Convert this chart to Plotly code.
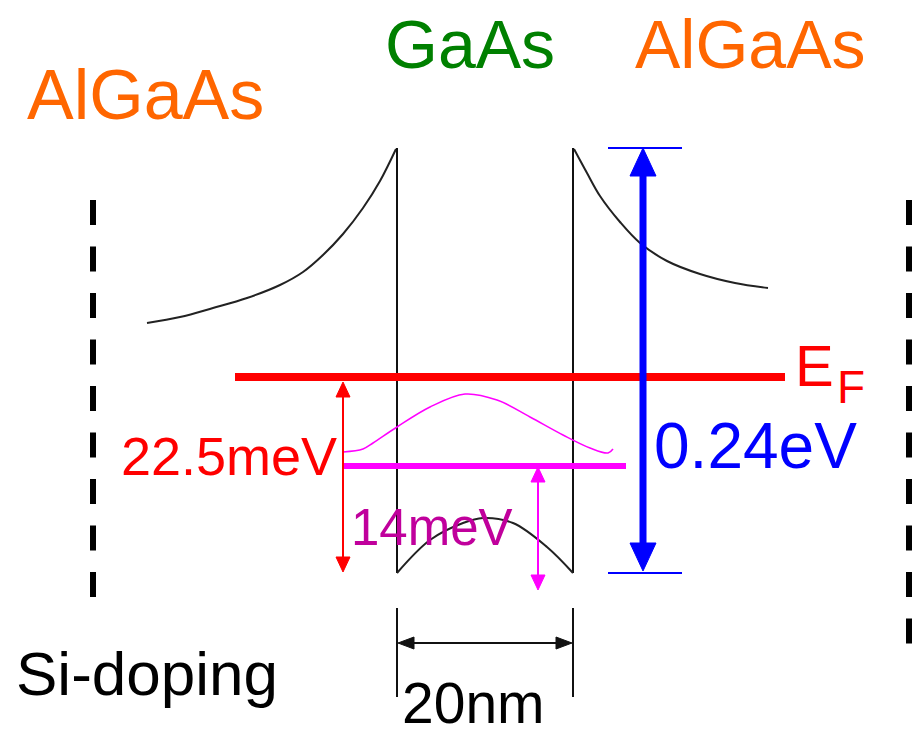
import plotly.graph_objects as go

# ---------------- data (diagram coordinates, px units, y downwards) ----------------
LEFT_BARRIER_X = [147, 180, 213, 247, 280, 303, 323, 343, 363, 380, 396]
LEFT_BARRIER_Y = [323, 317, 308, 298, 285, 272, 255, 234, 208, 181, 149]
RIGHT_BARRIER_X = [574, 587, 600, 620, 640, 667, 700, 735, 768]
RIGHT_BARRIER_Y = [149, 173, 196, 222, 243, 261, 274, 283, 288]
WELL_BOTTOM_X = [397, 430, 463, 483, 513, 547, 573]
WELL_BOTTOM_Y = [573, 540, 523, 518, 523, 547, 573]
WALL_X = [397, 573]
WALL_Y = [148, 573]
WAVE_X = [343, 363, 373, 397, 430, 465, 497, 530, 563, 590, 608, 613]
WAVE_Y = [452, 449, 443, 427, 407, 394, 400, 417, 435, 448, 453, 449]
FERMI_X = [235, 785]
FERMI_Y = 377
LEVEL_X = [343, 626]
LEVEL_Y = 466
DOPING_X = [93, 909]
DOPING_Y = [[200, 600], [200, 645]]
GAP_ARROW = dict(x=643, y=[148, 571], caps_x=[608, 682])
EF_ARROW = dict(x=343, y=[382, 572])
E1_ARROW = dict(x=538, y=[467, 590])
WIDTH_ARROW = dict(y=643, x=[398, 572], ticks_y=[608, 697])

LABELS = [
    # text, x, y, size, color
    ("AlGaAs", 145, 95, 70, "#FF6600"),
    ("GaAs", 470, 44, 68, "#008000"),
    ("AlGaAs", 750, 44, 68, "#FF6600"),
    ("Si-doping", 147, 673, 62, "#000000"),
    ("22.5meV", 229, 456, 54, "#FF0000"),
    ("14meV", 432, 527, 51, "#C0009C"),
    ("0.24eV", 755, 446, 64, "#0000FF"),
    ("E", 814, 365, 58, "#FF0000"),
    ("F", 851, 387, 46, "#FF0000"),
    ("20nm", 473, 703, 57, "#000000"),
]

fig = go.Figure()


def line(xs, ys, color, width, dash=None, shape="linear"):
    fig.add_trace(go.Scatter(x=xs, y=ys, mode="lines", hoverinfo="skip",
                             line=dict(color=color, width=width, dash=dash, shape=shape)))


def head(tx, ty, dx, dy, length, half, color):
    # tip at (tx,ty), pointing along (dx,dy) unit
    bx, by = tx - dx * length, ty - dy * length
    px, py = -dy, dx
    xs = [tx, bx + px * half, bx - px * half, tx]
    ys = [ty, by + py * half, by - py * half, ty]
    fig.add_trace(go.Scatter(x=xs, y=ys, mode="lines", fill="toself", fillcolor=color,
                             hoverinfo="skip", line=dict(color=color, width=1)))


def vdouble(x, y0, y1, color, width, length, half):
    line([x, x], [y0 + length * 0.8, y1 - length * 0.8], color, width)
    head(x, y0, 0, -1, length, half, color)
    head(x, y1, 0, 1, length, half, color)


# doping dashed lines
for x, (y0, y1) in zip(DOPING_X, DOPING_Y):
    line([x, x], [y0, y1], "#000000", 6, dash="25px,21.5px")

# band edges
line(LEFT_BARRIER_X, LEFT_BARRIER_Y, "#222222", 2, shape="spline")
line(RIGHT_BARRIER_X, RIGHT_BARRIER_Y, "#222222", 2, shape="spline")
for x in WALL_X:
    line([x, x], WALL_Y, "#111111", 2)
line(WELL_BOTTOM_X, WELL_BOTTOM_Y, "#222222", 2, shape="spline")

# width dimension
for x in WALL_X:
    line([x, x], WIDTH_ARROW["ticks_y"], "#111111", 2)
wx0, wx1 = WIDTH_ARROW["x"]
wy = WIDTH_ARROW["y"]
line([wx0 + 10, wx1 - 10], [wy, wy], "#111111", 2)
head(wx0, wy, -1, 0, 16, 6, "#111111")
head(wx1, wy, 1, 0, 16, 6, "#111111")

# wavefunction and level
line(WAVE_X, WAVE_Y, "#FF00FF", 1.5, shape="spline")
line(LEVEL_X, [LEVEL_Y, LEVEL_Y], "#FF00FF", 6)

# Fermi level
line(FERMI_X, [FERMI_Y, FERMI_Y], "#FF0000", 8)

# arrows
vdouble(EF_ARROW["x"], *EF_ARROW["y"], "#FF0000", 2, 15, 7)
vdouble(E1_ARROW["x"], *E1_ARROW["y"], "#FF00FF", 2, 15, 7)
gx = GAP_ARROW["x"]
gy0, gy1 = GAP_ARROW["y"]
for cy in (gy0, gy1 + 2):
    line(GAP_ARROW["caps_x"], [cy, cy], "#0000FF", 2)
vdouble(gx, gy0, gy1, "#0000FF", 7, 28, 13)

for text, x, y, size, color in LABELS:
    fig.add_annotation(x=x, y=y, text=text, showarrow=False, xanchor="center", yanchor="middle",
                       font=dict(family="Liberation Sans, Arial, sans-serif", size=size, color=color))

fig.update_layout(
    width=917, height=735, margin=dict(l=0, r=0, t=0, b=0),
    paper_bgcolor="white", plot_bgcolor="white", showlegend=False,
    xaxis=dict(range=[0, 917], visible=False, fixedrange=True),
    yaxis=dict(range=[735, 0], visible=False, fixedrange=True),
)
fig.write_html("out.html")
